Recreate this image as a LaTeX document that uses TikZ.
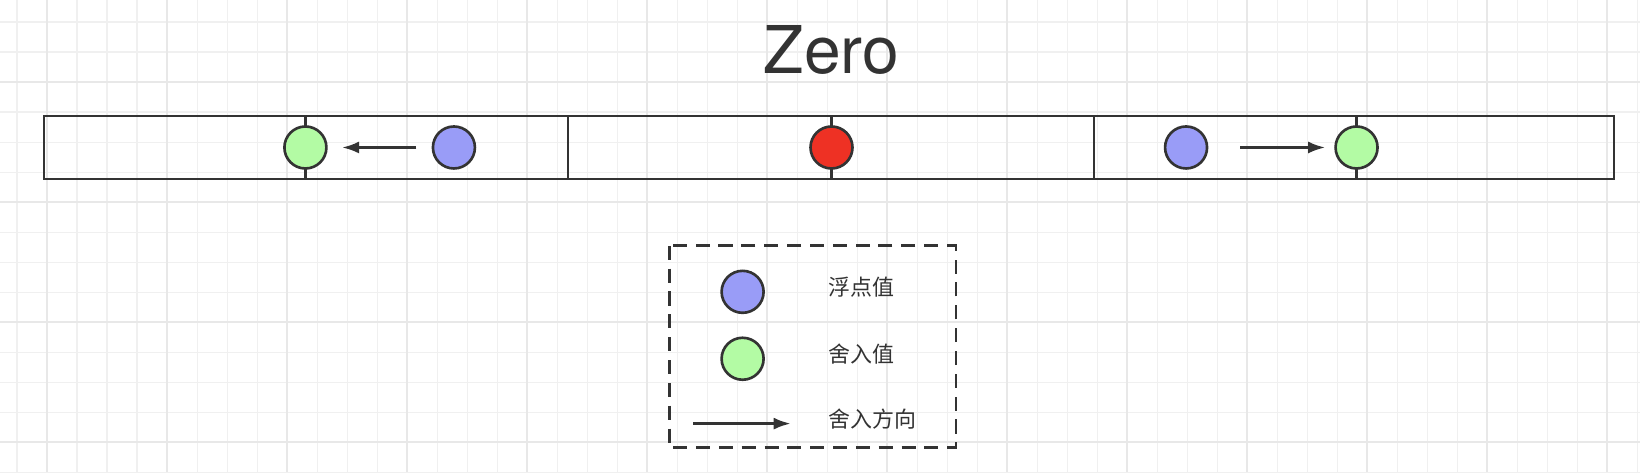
\documentclass[tikz,border=0pt]{standalone}
\usepackage{fontspec}
\setmainfont{TeX Gyre Heros}
\newfontfamily\cjk{Noto Sans CJK SC}
\usetikzlibrary{arrows.meta}
\definecolor{ink}{HTML}{333333}
\definecolor{floatblue}{HTML}{999CF7}
\definecolor{roundgreen}{HTML}{B3FBA4}
\definecolor{zerored}{HTML}{EE3124}

\tikzset{
  dot/.style={circle, draw=ink, line width=1.5pt, minimum size=0.84cm, inner sep=0pt},
  dir/.style={-{Latex[length=0.34cm,width=0.24cm]}, draw=ink, line width=1.5pt},
  legtext/.style={font=\cjk\fontsize{12.5}{15}\selectfont, text=ink}
}

\begin{document}
\begin{tikzpicture}[x=0.02092cm, y=-0.02092cm]
    % grid
    \begin{scope}[x=0.02cm, y=-0.02cm]
      \foreach \x in {17,47,...,1640} \draw[black!6, line width=0.6pt] (\x,0) -- (\x,472);
      \foreach \y in {22,52,...,472} \draw[black!6, line width=0.6pt] (0,\y) -- (1640,\y);
      \foreach \x in {47,167,...,1640} \draw[black!9, line width=1pt] (\x,0) -- (\x,472);
      \foreach \y in {82,202,...,472} \draw[black!9, line width=1pt] (0,\y) -- (1640,\y);
    \end{scope}

    \node[font=\fontsize{37.5}{42}\selectfont, text=ink] (title) at (795,48) {Zero};

    % number line
    \draw[ink, line width=1.5pt] (42,111) rectangle (1543,171);
    \foreach \x in {543,1046} \draw[ink, line width=1.5pt] (\x,111) -- (\x,171);
    \foreach \x in {292,795,1297} \draw[ink, line width=1.5pt] (\x,111) -- (\x,171);

    \node[dot, fill=roundgreen] (gl) at (292,141) {};
    \node[dot, fill=floatblue] (bl) at (434,141) {};
    \node[dot, fill=zerored] (zero) at (795,141) {};
    \node[dot, fill=floatblue] (br) at (1134,141) {};
    \node[dot, fill=roundgreen] (gr) at (1297,141) {};
    \coordinate (la-s) at (398,141);
    \coordinate (la-e) at (327,141);
    \coordinate (ra-s) at (1186,141);
    \coordinate (ra-e) at (1267,141);
    \draw[dir] (la-s) -- (la-e);
    \draw[dir] (ra-s) -- (ra-e);

    % legend
    \draw[ink, line width=1.5pt, dash pattern=on 8pt off 5pt] (640,235) rectangle (914,428);
    \node[dot, fill=floatblue] (lfloat) at (710,279) {};
    \node[dot, fill=roundgreen] (lround) at (710,343) {};
    \coordinate (la) at (663,405);
    \coordinate (lb) at (756,405);
    \draw[dir] (la) -- (lb);
    \node[legtext, anchor=west] (tfloat) at (786,275) {浮点值};
    \node[legtext, anchor=west] (tround) at (786,339) {舍入值};
    \node[legtext, anchor=west] (tdir) at (786,401) {舍入方向};

    \pgfresetboundingbox
    \useasboundingbox (0,0) rectangle (1568,451.3);
\end{tikzpicture}
\end{document}
